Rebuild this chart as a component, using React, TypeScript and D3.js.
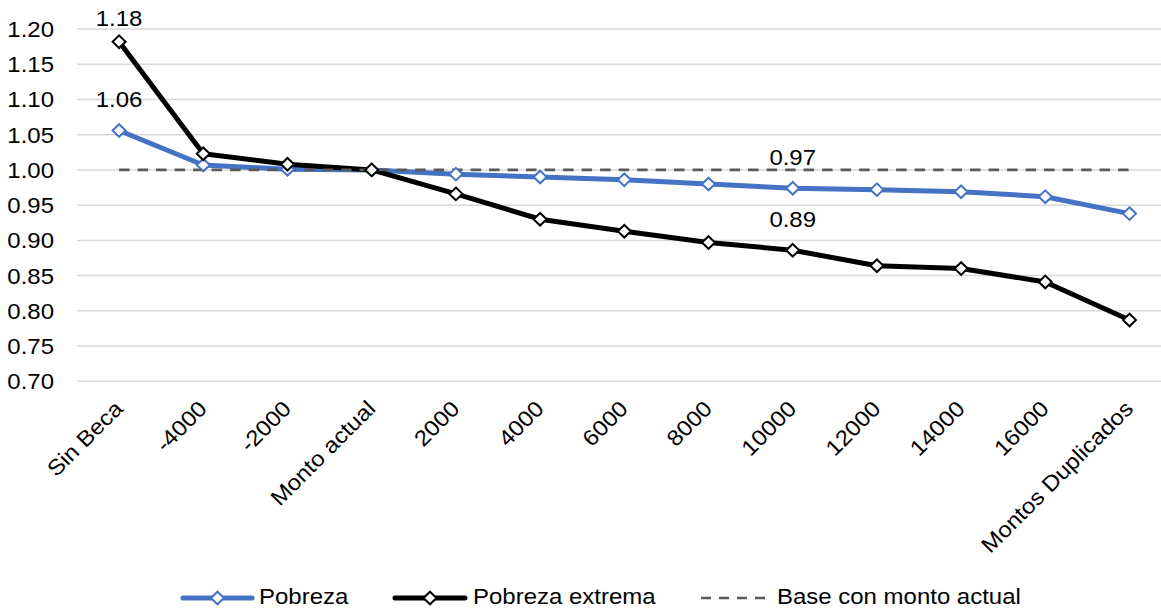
import React from "react";
import * as d3 from "d3";

const categories = ["Sin Beca", "-4000", "-2000", "Monto actual", "2000", "4000", "6000", "8000", "10000", "12000", "14000", "16000", "Montos Duplicados"];
const pobreza = [1.056, 1.007, 1.001, 1.0, 0.994, 0.990, 0.986, 0.980, 0.974, 0.972, 0.969, 0.962, 0.938];
const pobrezaExtrema = [1.182, 1.023, 1.008, 1.0, 0.966, 0.930, 0.913, 0.897, 0.886, 0.864, 0.860, 0.841, 0.787];
const base = categories.map(() => 1.0);
const yTicks = [0.7, 0.75, 0.8, 0.85, 0.9, 0.95, 1.0, 1.05, 1.1, 1.15, 1.2];
const dataLabels = [
  { series: "extrema", index: 0, text: "1.18" },
  { series: "pobreza", index: 0, text: "1.06" },
  { series: "pobreza", index: 8, text: "0.97" },
  { series: "extrema", index: 8, text: "0.89" },
];
const legendItems = [
  { name: "Pobreza", kind: "blue" },
  { name: "Pobreza extrema", kind: "black" },
  { name: "Base con monto actual", kind: "dash" },
];

const W = 1161;
const H = 609;
const BLUE = "#4472C4";
const FONT = "Liberation Sans, Arial, sans-serif";
const SX = 1.09;
const FS = 22;

function T({ x, y, anchor, rotate, children }: { x: number; y: number; anchor?: string; rotate?: number; children: React.ReactNode }) {
  return (
    <g transform={`translate(${x},${y})${rotate ? ` rotate(${rotate})` : ""} scale(${SX},1)`}>
      <text x={0} y={0} textAnchor={anchor || "start"} fontSize={FS} fill="#000">
        {children}
      </text>
    </g>
  );
}

export default function App() {
  const x = d3.scaleBand<string>().domain(categories).range([77, 77 + 13 * 84.2]).padding(0);
  const cx = (i: number) => (x(categories[i]) as number) + x.bandwidth() / 2;
  const y = d3.scaleLinear().domain([0.7, 1.2]).range([381.3, 29]);

  const line = d3
    .line<number>()
    .x((_, i) => cx(i))
    .y((d) => y(d));

  const diamond = (px: number, py: number, stroke: string, key: string) => (
    <path
      key={key}
      d={`M${px},${py - 6.3}L${px + 6.5},${py}L${px},${py + 6.3}L${px - 6.5},${py}Z`}
      fill="#fff"
      stroke={stroke}
      strokeWidth={2}
    />
  );

  const legendPos = {
    blue: { x1: 183, x2: 252, tx: 259 },
    black: { x1: 395, x2: 465, tx: 473 },
    dash: { x1: 701, x2: 767, tx: 777 },
  } as Record<string, { x1: number; x2: number; tx: number }>;

  return (
    <svg width={W} height={H} style={{ position: "absolute", left: 0, top: 0, background: "#fff" }} fontFamily={FONT}>
      {yTicks.map((t) => (
        <g key={t}>
          <line x1={77} x2={W} y1={y(t)} y2={y(t)} stroke="#d9d9d9" strokeWidth={1.5} />
          <T x={54} y={y(t) + 8} anchor="end">
            {t.toFixed(2)}
          </T>
        </g>
      ))}
      {categories.map((c, i) => (
        <T key={c} x={cx(i) + 5} y={410} anchor="end" rotate={-45}>
          {c}
        </T>
      ))}
      <path d={line(pobreza) as string} fill="none" stroke={BLUE} strokeWidth={5} strokeLinejoin="round" />
      <path d={line(pobrezaExtrema) as string} fill="none" stroke="#000" strokeWidth={5} strokeLinejoin="round" />
      <path d={line(base) as string} fill="none" stroke="#595959" strokeWidth={2.7} strokeDasharray="10.5,8" />
      {pobreza.map((v, i) => diamond(cx(i), y(v), BLUE, "p" + i))}
      {pobrezaExtrema.map((v, i) => diamond(cx(i), y(v), "#000", "e" + i))}
      {dataLabels.map((l) => {
        const v = l.series === "pobreza" ? pobreza[l.index] : pobrezaExtrema[l.index];
        const by = Math.max(y(v) - 23, 26);
        return (
          <T key={l.text} x={cx(l.index)} y={by} anchor="middle">
            {l.text}
          </T>
        );
      })}
      {legendItems.map((it) => {
        const p = legendPos[it.kind];
        const col = it.kind === "blue" ? BLUE : "#000";
        return (
          <g key={it.name}>
            {it.kind === "dash" ? (
              <line x1={p.x1} x2={p.x2} y1={598} y2={598} stroke="#595959" strokeWidth={2.7} strokeDasharray="10,8" />
            ) : (
              <>
                <line x1={p.x1} x2={p.x2} y1={598} y2={598} stroke={col} strokeWidth={5} strokeLinecap="round" />
                {diamond((p.x1 + p.x2) / 2, 598, col, "l" + it.kind)}
              </>
            )}
            <T x={p.tx} y={604}>
              {it.name}
            </T>
          </g>
        );
      })}
    </svg>
  );
}
